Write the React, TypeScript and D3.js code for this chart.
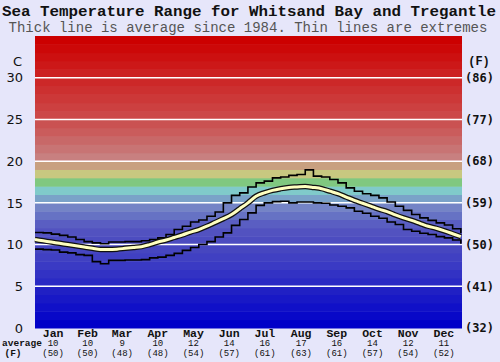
import React, { useEffect } from 'react';
import * as d3 from 'd3';

// month names and the monthly averages printed under the chart
const months = ['Jan', 'Feb', 'Mar', 'Apr', 'May', 'Jun', 'Jul', 'Aug', 'Sep', 'Oct', 'Nov', 'Dec'];
const monthLengths = [31, 28, 31, 30, 31, 30, 31, 31, 30, 31, 30, 31];
const monthAvgC = [10, 10, 9, 10, 12, 14, 16, 17, 16, 14, 12, 11];
const monthAvgF = [50, 50, 48, 48, 54, 57, 61, 63, 61, 57, 54, 52];

// weekly readings, day of year 0, 7, 14 ... 364
const weekDays = [
  0, 7, 14, 21, 28, 35, 42, 49, 56, 63, 70, 77, 84, 91, 98, 105, 112, 119, 126, 133, 140, 147, 154, 161, 168, 175,
  182, 189, 196, 203, 210, 217, 224, 231, 238, 245, 252, 259, 266, 273, 280, 287, 294, 301, 308, 315, 322, 329, 336,
  343, 350, 357, 364,
];
const avgTemp = [
  10.6, 10.45, 10.3, 10.15, 10.0, 9.85, 9.7, 9.55, 9.4, 9.4, 9.45, 9.55, 9.65, 9.75, 10.0, 10.3, 10.55, 10.85, 11.15,
  11.5, 11.8, 12.2, 12.65, 13.1, 13.6, 14.3, 15.0, 15.8, 16.2, 16.5, 16.7, 16.85, 16.9, 16.95, 16.85, 16.7, 16.4, 16.1,
  15.7, 15.3, 14.95, 14.6, 14.25, 13.95, 13.55, 13.2, 12.9, 12.55, 12.2, 11.95, 11.65, 11.3, 10.95,
];
const maxTemp = [
  11.45, 11.4, 11.25, 11.1, 10.9, 10.6, 10.35, 10.2, 10.1, 10.3, 10.3, 10.35, 10.35, 10.45, 10.6, 10.8, 11.2, 11.8,
  12.2, 12.7, 12.95, 13.4, 13.9, 15.0, 15.9, 16.2, 16.9, 17.4, 17.6, 18.0, 18.1, 18.3, 18.4, 18.95, 18.2, 18.1, 17.8,
  17.4, 16.8, 16.4, 16.1, 15.9, 15.6, 15.1, 14.6, 14.1, 13.6, 13.2, 12.9, 12.6, 12.35, 11.9, 11.4,
];
const minTemp = [
  9.45, 9.4, 9.35, 9.1, 9.0, 8.8, 8.7, 7.95, 7.7, 8.1, 8.1, 8.15, 8.15, 8.2, 8.4, 8.5, 8.7, 8.95, 9.3, 9.65, 10.0,
  10.35, 10.9, 11.4, 12.3, 13.0, 13.8, 14.7, 15.0, 15.15, 15.2, 15.0, 15.1, 15.1, 15.0, 14.95, 14.75, 14.6, 14.4, 14.0,
  13.75, 13.4, 13.15, 12.7, 12.4, 11.8, 11.6, 11.35, 11.2, 10.95, 10.8, 10.55, 10.1,
];

const cTicks = [0, 5, 10, 15, 20, 25, 30];
const fTicks = [32, 41, 50, 59, 68, 77, 86];

// one colour band per degree, 0..35
const bandColors = [
  '#0000c8', '#0808c8', '#1010c8', '#1818c6', '#2020c4', '#2a2ac4', '#3232c4', '#3a3ac4', '#4040c2', '#4646c0',
  '#4c4cc0', '#5252c0', '#5a5ec2', '#6672c4', '#7484c6', '#7aa2c8', '#80caca', '#80c880', '#c8c880', '#c8a080',
  '#c88080', '#c87474', '#c86868', '#ca5c5c', '#ca5252', '#cc4848', '#cc4040', '#cc3838', '#cc3030', '#cc2828',
  '#cc2020', '#cc1818', '#cc1010', '#cc0808', '#cc0000',
];

const W = 500;
const H = 362;

const App = () => {
  useEffect(() => {
    document.body.style.margin = '0';
  }, []);

  const x = d3.scaleLinear().domain([0, 365]).range([35, 462]);
  const y = d3.scaleLinear().domain([0, 35]).range([328, 36]);

  const monthStarts = d3.cumsum([0, ...monthLengths]);

  const pts = (vals: number[]) => weekDays.map((d, i) => [d, vals[i]] as [number, number]);
  const step = d3
    .line<[number, number]>()
    .x((d) => x(d[0]))
    .y((d) => y(d[1]))
    .curve(d3.curveStepAfter);
  const smooth = d3
    .line<[number, number]>()
    .x((d) => x(d[0]))
    .y((d) => y(d[1]))
    .curve(d3.curveMonotoneX);

  const mono = "'Liberation Mono', 'Courier New', monospace";
  const sansMono = "'DejaVu Sans Mono', monospace";

  return (
    <svg width={W} height={H} style={{ display: 'block', background: '#e6e6fa' }}>
      <text x={249} y={16} textAnchor="middle" fontFamily={mono} fontWeight="bold" fontSize={15} fill="#111" textLength={494} lengthAdjust="spacingAndGlyphs">
        Sea Temperature Range for Whitsand Bay and Tregantle
      </text>
      <text x={248} y={31.5} textAnchor="middle" fontFamily={mono} fontSize={14} fill="#555">
        Thick line is average since 1984. Thin lines are extremes
      </text>

      {/* colour bands */}
      {bandColors.map((c, i) => (
        <rect key={i} x={x(0)} width={x(365) - x(0)} y={y(i + 1)} height={y(i) - y(i + 1) + 0.5} fill={c} />
      ))}

      {/* white grid at every 5 degrees */}
      {cTicks.slice(1).map((t) => (
        <line key={t} x1={x(0)} x2={x(365)} y1={y(t)} y2={y(t)} stroke="#fff" strokeWidth={1.5} />
      ))}

      {/* month separators */}
      {monthStarts.slice(1, 12).map((d) => (
        <line key={d} x1={x(d)} x2={x(d)} y1={y(35)} y2={y(0)} stroke="#6a6a80" strokeWidth={1} />
      ))}

      <path d={step(pts(maxTemp)) || ''} fill="none" stroke="#000" strokeWidth={1.6} />
      <path d={step(pts(minTemp)) || ''} fill="none" stroke="#000" strokeWidth={1.6} />
      <path d={smooth(pts(avgTemp)) || ''} fill="none" stroke="#111" strokeWidth={5.5} />
      <path d={smooth(pts(avgTemp)) || ''} fill="none" stroke="#ffffc0" strokeWidth={3} />

      {/* left axis */}
      <text x={22} y={y(32)} dy="0.35em" textAnchor="end" fontFamily="'DejaVu Sans'" fontSize={13} fill="#111">
        C
      </text>
      {cTicks.map((t) => (
        <text key={t} x={23} y={y(t)} dy="0.36em" textAnchor="end" fontFamily="'DejaVu Sans'" fontSize={13} fill="#111">
          {t}
        </text>
      ))}

      {/* right axis */}
      <text x={479} y={y(32)} dy="0.35em" textAnchor="middle" fontFamily={mono} fontWeight="bold" fontSize={12} fill="#111">
        (F)
      </text>
      {fTicks.map((f, i) => (
        <text key={f} x={465} y={y(cTicks[i])} dy="0.36em" fontFamily={sansMono} fontWeight="bold" fontSize={12} fill="#111">
          ({f})
        </text>
      ))}

      {/* month labels */}
      {months.map((m, i) => {
        const cx = x((monthStarts[i] + monthStarts[i + 1]) / 2);
        return (
          <g key={m}>
            <text x={cx} y={336.5} textAnchor="middle" fontFamily={mono} fontWeight="bold" fontSize={11.5} fill="#111">
              {m}
            </text>
            <text x={cx} y={346} textAnchor="middle" fontFamily={mono} fontSize={9} fill="#111">
              {monthAvgC[i]}
            </text>
            <text x={cx} y={355.5} textAnchor="middle" fontFamily={mono} fontSize={9} fill="#111">
              ({monthAvgF[i]})
            </text>
          </g>
        );
      })}
      <text x={22} y={346} textAnchor="middle" fontFamily={mono} fontWeight="bold" fontSize={9.5} fill="#111">
        average
      </text>
      <text x={13} y={355.5} textAnchor="middle" fontFamily={mono} fontWeight="bold" fontSize={9.5} fill="#111">
        (F)
      </text>
    </svg>
  );
};

export default App;
